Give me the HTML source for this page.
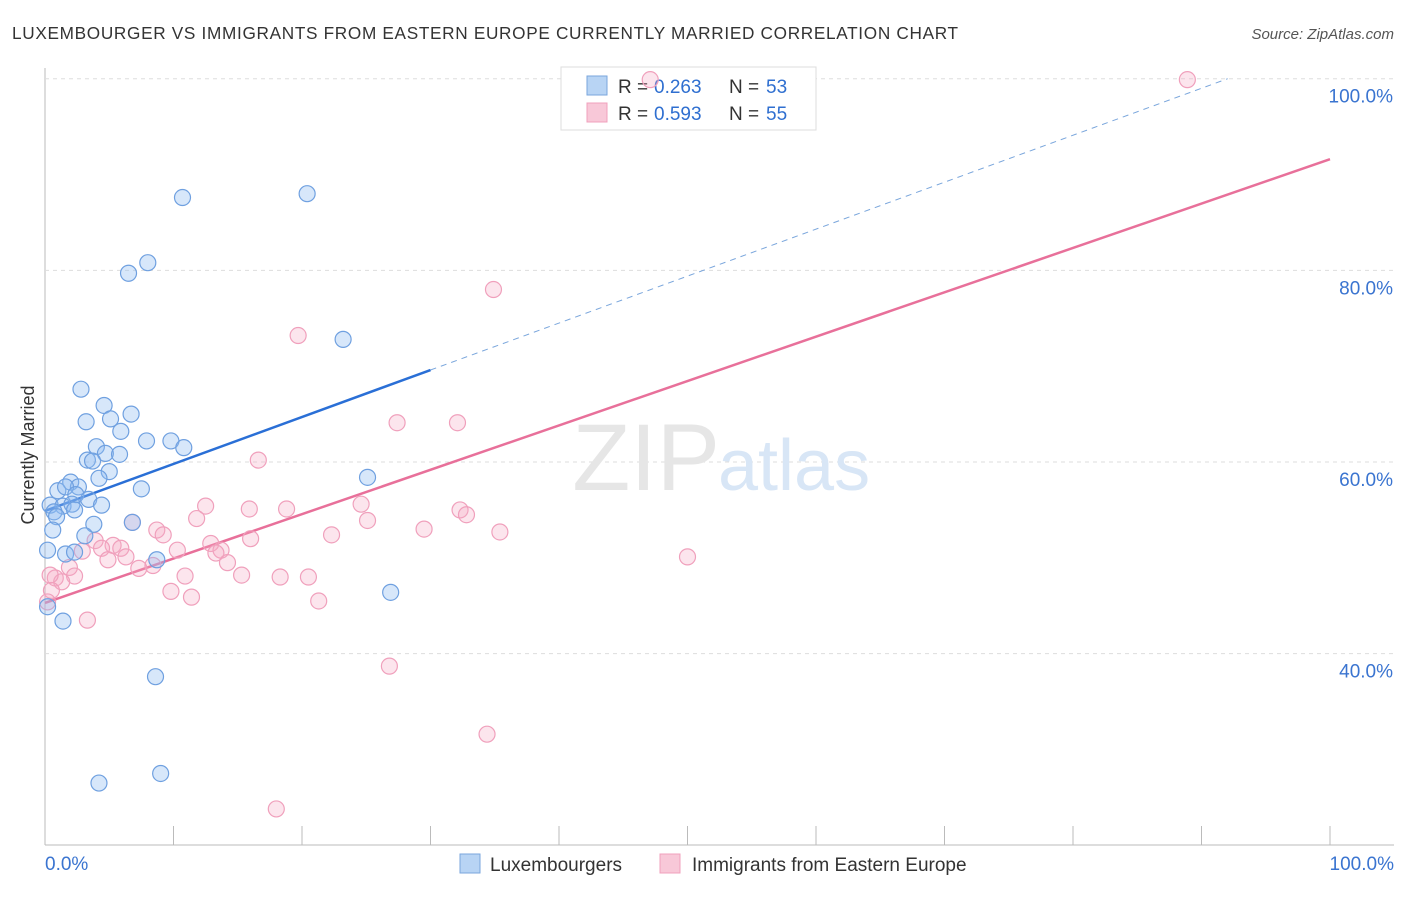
<!DOCTYPE html>
<html><head><meta charset="utf-8"><style>
body{margin:0;background:#fff;font-family:"Liberation Sans",sans-serif;}
svg text{font-family:"Liberation Sans",sans-serif;}
</style></head><body>
<svg width="1406" height="892" viewBox="0 0 1406 892">
<text x="12" y="39" font-size="17.2" fill="#333" textLength="946">LUXEMBOURGER VS IMMIGRANTS FROM EASTERN EUROPE CURRENTLY MARRIED CORRELATION CHART</text>
<text x="1394" y="39" font-size="15" fill="#555" text-anchor="end" font-style="italic">Source: ZipAtlas.com</text>
<g id="grid"></g>
<text x="720" y="490" font-size="95" fill="#e6e6e6" text-anchor="end" font-family="Liberation Serif">ZIP</text>
<text x="718" y="490" font-size="72" fill="#d8e6f6">atlas</text>
<text transform="translate(34,455) rotate(-90)" font-size="18" fill="#333" text-anchor="middle">Currently Married</text>
<g>
<rect x="561" y="67" width="255" height="63" fill="#fff" stroke="#ddd"/>
<rect x="587" y="76" width="20" height="19" fill="#b8d4f4" stroke="#7aa6dc"/>
<rect x="587" y="103" width="20" height="19" fill="#f8c8d8" stroke="#f0a0bc"/>
<text y="93" font-size="19" fill="#333"><tspan x="618">R = </tspan><tspan x="654" fill="#2f6fd0">0.263</tspan><tspan x="729">N = </tspan><tspan x="766" fill="#2f6fd0">53</tspan></text>
<text y="120" font-size="19" fill="#333"><tspan x="618">R = </tspan><tspan x="654" fill="#2f6fd0">0.593</tspan><tspan x="729">N = </tspan><tspan x="766" fill="#2f6fd0">55</tspan></text>
</g>
<g id="lines"></g>
<g id="pts"></g>
<g>
<rect x="460" y="854" width="20" height="19" fill="#b8d4f4" stroke="#7aa6dc"/>
<text x="490" y="871" font-size="19" fill="#333">Luxembourgers</text>
<rect x="660" y="854" width="20" height="19" fill="#f8c8d8" stroke="#f0a0bc"/>
<text x="692" y="871" font-size="19" fill="#333">Immigrants from Eastern Europe</text>
</g>
</svg>
<script>
const xTicks=[0,10,20,30,40,50,60,70,80,90,100];
const yGrid=[40,60,80,100];
const yLabels=["40.0%","60.0%","80.0%","100.0%"];
const blueX=[10.7,20.4,6.5,8.0,23.2,2.8,3.2,4.6,6.7,5.1,5.9,7.9,9.8,10.8,4.0,4.7,5.8,3.3,3.7,5.0,4.2,25.1,2.0,2.6,7.5,1.0,1.6,2.4,3.4,4.4,0.4,1.4,2.1,0.7,2.3,0.9,3.8,0.6,6.8,3.1,0.2,1.6,2.3,8.7,26.9,1.4,0.2,8.6,4.2,9.0];
const blueY=[87.6,88.0,79.7,80.8,72.8,67.6,64.2,65.9,65.0,64.5,63.2,62.2,62.2,61.5,61.6,60.9,60.8,60.2,60.1,59.0,58.3,58.4,57.9,57.4,57.2,57.0,57.4,56.6,56.1,55.5,55.5,55.4,55.6,54.8,55.0,54.3,53.5,52.9,53.7,52.3,50.8,50.4,50.6,49.8,46.4,43.4,44.9,37.6,26.5,27.5];
const pinkX=[47.1,88.9,34.9,19.7,27.4,32.1,16.6,12.5,15.9,18.8,24.6,32.3,32.8,11.8,25.1,6.8,29.5,35.4,8.7,9.2,22.3,16.0,3.9,12.9,5.3,5.9,4.4,10.3,13.7,13.3,2.9,6.3,4.9,14.2,8.4,7.3,1.9,50.0,10.9,15.3,18.3,20.5,2.3,0.8,1.3,9.8,11.4,21.3,3.3,26.8,34.4,18.0,0.5,0.2,0.4];
const pinkY=[99.9,99.9,78.0,73.2,64.1,64.1,60.2,55.4,55.1,55.1,55.6,55.0,54.5,54.1,53.9,53.7,53.0,52.7,52.9,52.4,52.4,52.0,51.8,51.5,51.3,51.0,51.0,50.8,50.8,50.5,50.7,50.1,49.8,49.5,49.2,48.9,49.0,50.1,48.1,48.2,48.0,48.0,48.1,47.9,47.5,46.5,45.9,45.5,43.5,38.7,31.6,23.8,46.6,45.4,48.2];
const blueFit=[54.9,0.49];   // intercept, slope
const pinkFit=[45.3,0.463];
const X=v=>45+v*12.85, Y=v=>1037-v*9.583;
const NS="http://www.w3.org/2000/svg";
function mk(t,a,p){const e=document.createElementNS(NS,t);for(const k in a)e.setAttribute(k,a[k]);p.appendChild(e);return e;}
const g=document.getElementById('grid');
let ax=mk('line',{x1:45,y1:845,x2:1394,y2:845,stroke:'#bbb'},g);


let ay=mk('line',{x1:45,y1:68,x2:45,y2:845,stroke:'#bbb'},g);


yGrid.forEach((v,i)=>{
  const l=mk('line',{x1:45,y1:Y(v),x2:1394,y2:Y(v),stroke:'#ddd','stroke-dasharray':'4,4'},g);
  
  
  const t=mk('text',{x:1393,y:Y(v)+24,'font-size':19,fill:'#3a74d0','text-anchor':'end'},g);
  t.textContent=yLabels[i];
  
  
});
xTicks.forEach(v=>{
  const l=mk('line',{x1:X(v),y1:826,x2:X(v),y2:845,stroke:'#bbb'},g);
  
  
});
let t0=mk('text',{x:45,y:870,'font-size':19,fill:'#3a74d0'},g);t0.textContent='0.0%';


let t1=mk('text',{x:1394,y:870,'font-size':19,fill:'#3a74d0','text-anchor':'end'},g);t1.textContent='100.0%';


const pts=document.getElementById('pts');
pinkX.forEach((x,i)=>{const c=mk('circle',{cx:X(x),cy:Y(pinkY[i]),r:8,fill:'rgba(245,170,195,0.3)',stroke:'#f0a0bc','stroke-width':1.2},pts);
  
  });
blueX.forEach((x,i)=>{const c=mk('circle',{cx:X(x),cy:Y(blueY[i]),r:8,fill:'rgba(140,185,240,0.35)',stroke:'#6fa0e0','stroke-width':1.2},pts);
  
  });
const L=document.getElementById('lines');
const bx2=(100-blueFit[0])/blueFit[1];
let bd=mk('line',{x1:X(30),y1:Y(blueFit[0]+30*blueFit[1]),x2:X(bx2),y2:Y(100),stroke:'#7aa6dc','stroke-width':1,'stroke-dasharray':'6,5'},L);


let bl=mk('line',{x1:X(0),y1:Y(blueFit[0]),x2:X(30),y2:Y(blueFit[0]+30*blueFit[1]),stroke:'#2a6fd6','stroke-width':2.5},L);


let pl=mk('line',{x1:X(0),y1:Y(pinkFit[0]),x2:X(100),y2:Y(pinkFit[0]+100*pinkFit[1]),stroke:'#e8709a','stroke-width':2.5},L);


</script>
</body></html>
